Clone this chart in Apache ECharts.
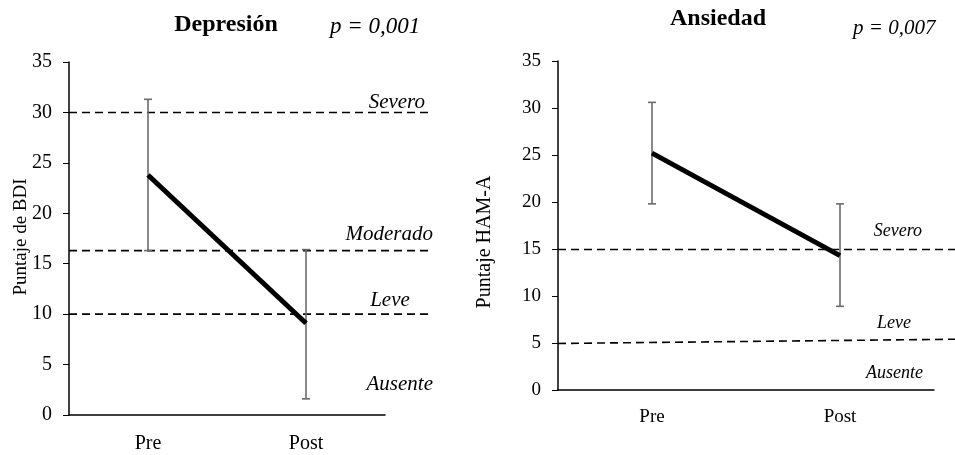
<!DOCTYPE html>
<html>
<head>
<meta charset="utf-8">
<script src="https://cdn.jsdelivr.net/npm/echarts@6/dist/echarts.min.js"></script>
<style>html,body{margin:0;padding:0;background:#fff}#c{width:955px;height:455px}</style>
</head>
<body>
<div id="c"></div>
<script>
const categories = ['Pre', 'Post'];
const yTicks = [0, 5, 10, 15, 20, 25, 30, 35];

const depMean = [23.8, 9.1];
const depLow = [16.3, 1.6];
const depHigh = [31.3, 16.4];
const depCutoffs = [30, 16.3, 10];          // Severo, Moderado, Leve

const ansMean = [25.2, 14.3];
const ansLow = [19.8, 8.9];
const ansHigh = [30.6, 19.8];
const ansCutoffStart = [14.95, 4.95];       // Severo, Leve (left end)
const ansCutoffEnd = [14.95, 5.4];          // Severo, Leve (right end)

const FONT = "'Liberation Serif','Times New Roman',serif";

const chart = echarts.init(document.getElementById('c'), null, {renderer: 'canvas'});

function errBars(gridIdx, low, high) {
  return {
    type: 'custom',
    xAxisIndex: gridIdx, yAxisIndex: gridIdx,
    z: 3,
    data: categories.map((c, i) => [i, low[i], high[i]]),
    renderItem: function (params, api) {
      const x = api.value(0);
      const lo = api.coord([x, api.value(1)]);
      const hi = api.coord([x, api.value(2)]);
      const w = 4;
      const st = {stroke: '#6b6b6b', lineWidth: 1.6};
      return {
        type: 'group',
        children: [
          {type: 'line', shape: {x1: lo[0], y1: lo[1], x2: hi[0], y2: hi[1]}, style: st},
          {type: 'line', shape: {x1: lo[0] - w, y1: lo[1], x2: lo[0] + w, y2: lo[1]}, style: st},
          {type: 'line', shape: {x1: hi[0] - w, y1: hi[1], x2: hi[0] + w, y2: hi[1]}, style: st}
        ]
      };
    }
  };
}

function dashLine(gridIdx, a, b) {
  return {
    type: 'line', xAxisIndex: gridIdx, yAxisIndex: gridIdx,
    data: [[0, a], [1, b]], symbol: 'none', silent: true, z: 1,
    lineStyle: {color: '#000', width: 1.6, type: [8, 5]}
  };
}

function yAx(gridIdx, fs) {
  return {
    type: 'value', gridIndex: gridIdx, min: 0, max: 35, interval: 5,
    axisLine: {show: true, lineStyle: {color: '#000', width: 1.5}},
    axisTick: {show: true, length: 6, lineStyle: {color: '#000', width: 1}},
    axisLabel: {color: '#000', fontFamily: FONT, fontSize: fs, margin: 17,
      formatter: v => yTicks.includes(v) ? String(v) : ''},
    splitLine: {show: false}
  };
}
function xAx(gridIdx, fs, m) {
  return {
    type: 'category', gridIndex: gridIdx, data: categories,
    axisLine: {show: true, lineStyle: {color: '#000', width: 1.5}},
    axisTick: {show: false},
    axisLabel: {color: '#000', fontFamily: FONT, fontSize: fs, margin: m}
  };
}
function hiddenX(gridIdx) { return {type: 'value', gridIndex: gridIdx, min: 0, max: 1, show: false}; }
function hiddenY(gridIdx) { return {type: 'value', gridIndex: gridIdx, min: 0, max: 35, show: false}; }

function txt(x, y, text, font, align, extra) {
  return Object.assign({
    type: 'text', x: x, y: y,
    style: {text: text, fill: '#000', font: font + ' ' + FONT,
      align: align || 'center', verticalAlign: 'middle'}
  }, extra || {});
}

const series = [];
depCutoffs.forEach(v => series.push(dashLine(2, v, v)));
ansCutoffStart.forEach((v, i) => series.push(dashLine(3, v, ansCutoffEnd[i])));
series.push(errBars(0, depLow, depHigh));
series.push(errBars(1, ansLow, ansHigh));
series.push({type: 'line', xAxisIndex: 0, yAxisIndex: 0, data: depMean, symbol: 'none', z: 4,
  lineStyle: {color: '#000', width: 5}});
series.push({type: 'line', xAxisIndex: 1, yAxisIndex: 1, data: ansMean, symbol: 'none', z: 4,
  lineStyle: {color: '#000', width: 5}});

chart.setOption({
  animation: false,
  backgroundColor: '#fff',
  grid: [
    {left: 69, top: 62, width: 316, height: 353},
    {left: 558, top: 61, width: 376, height: 329},
    {left: 69, top: 62, width: 361, height: 353},
    {left: 558, top: 61, width: 400, height: 329}
  ],
  xAxis: [xAx(0, 20, 19), xAx(1, 19, 18), hiddenX(2), hiddenX(3)],
  yAxis: [yAx(0, 20), yAx(1, 19), hiddenY(2), hiddenY(3)],
  series: series,
  graphic: [
    txt(226, 25, 'Depresión', 'bold 24px'),
    txt(330, 27, 'p = 0,001', 'italic 23px', 'left'),
    txt(718, 19, 'Ansiedad', 'bold 24px'),
    txt(853, 28, 'p = 0,007', 'italic 21px', 'left'),
    txt(21, 237, 'Puntaje de BDI', '19px', 'center', {rotation: Math.PI / 2}),
    txt(485, 242, 'Puntaje HAM-A', '20px', 'center', {rotation: Math.PI / 2}),
    txt(425, 102, 'Severo', 'italic 21px', 'right'),
    txt(433, 234, 'Moderado', 'italic 21px', 'right'),
    txt(390, 300, 'Leve', 'italic 21px'),
    txt(433, 384, 'Ausente', 'italic 21px', 'right'),
    txt(922, 231, 'Severo', 'italic 18px', 'right'),
    txt(894, 323, 'Leve', 'italic 18px'),
    txt(923, 373, 'Ausente', 'italic 18px', 'right')
  ]
});
</script>
</body>
</html>
